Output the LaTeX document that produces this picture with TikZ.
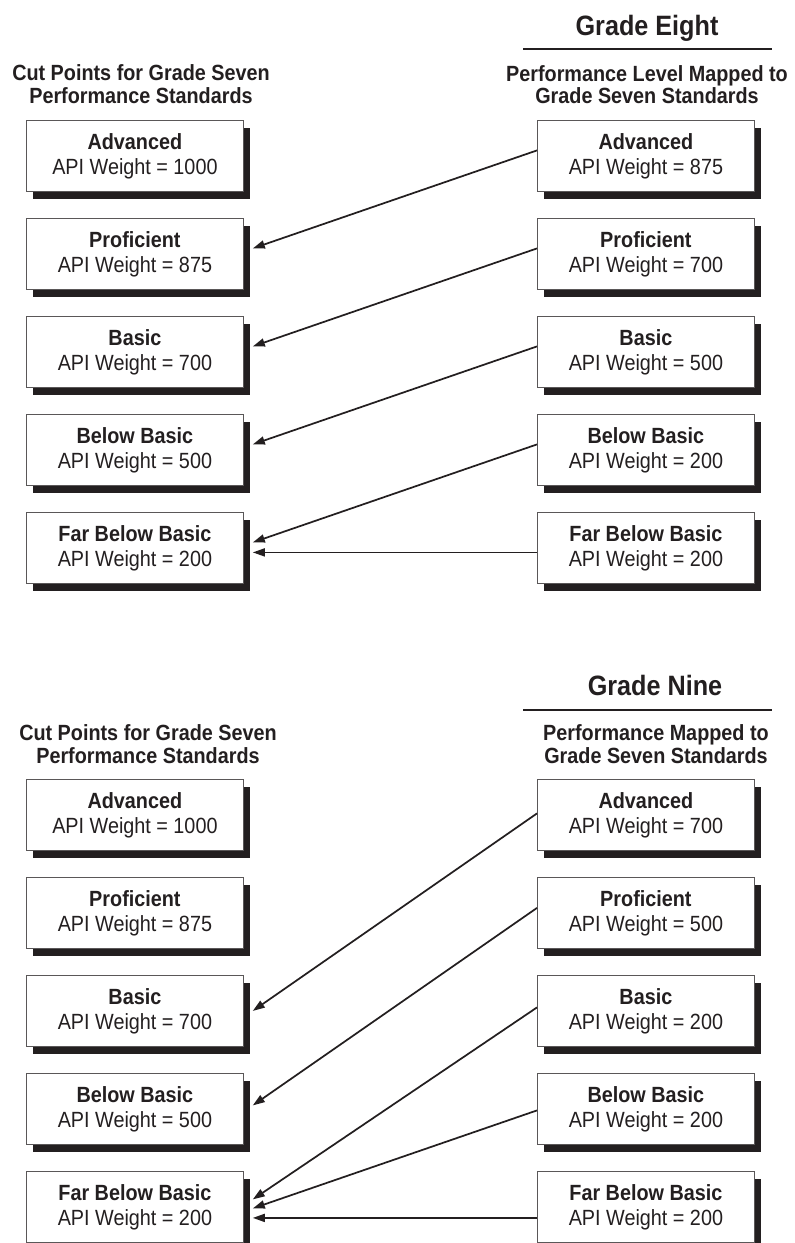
\documentclass[tikz,border=0pt]{standalone}
\usepackage{fontspec}
\setmainfont{Liberation Sans}[FakeStretch=0.9]
\usepackage{xcolor}
\usetikzlibrary{positioning}
\usetikzlibrary{calc}
\usetikzlibrary{shadows}
\usetikzlibrary{arrows.meta}
\definecolor{ink}{HTML}{231F20}

\begin{document}
\begin{tikzpicture}[x=0.75pt,y=-0.75pt,
  level/.style={draw=ink!75,line width=0.6pt,fill=white,anchor=north west,minimum width=162.75pt,minimum height=53.25pt,inner sep=0pt,align=center,text=ink,font=\fontsize{16.5}{18.75}\selectfont,drop shadow={shadow xshift=4.8pt,shadow yshift=-5.4pt,fill=ink,opacity=1}},
  head/.style={anchor=base,text=ink,inner sep=0pt,font=\bfseries\fontsize{16.5}{18}\selectfont},
  grade/.style={anchor=base,text=ink,inner sep=0pt,font=\bfseries\fontsize{21}{24}\selectfont},
  map/.style={draw=ink,line width=1.3pt,-{Triangle[length=9pt,width=6pt]}}]
\useasboundingbox (0,0) rectangle (794,1243);

% grade eight
\node[grade] (g8) at (647,35) {Grade Eight};
\draw[ink,line width=1.1pt] (523,49) -- (772,49);
\node[head] (cut8a) at (141,80) {Cut Points for Grade Seven};
\node[head] (cut8b) at (141,103) {Performance Standards};
\node[head] (map8a) at (647,81) {Performance Level Mapped to};
\node[head] (map8b) at (647,103) {Grade Seven Standards};

\node[level] (la1) at (26,120) {\textbf{Advanced}\\API Weight = 1000};
\node[level] (la2) at (26,218) {\textbf{Proficient}\\API Weight = 875};
\node[level] (la3) at (26,316) {\textbf{Basic}\\API Weight = 700};
\node[level] (la4) at (26,414) {\textbf{Below Basic}\\API Weight = 500};
\node[level] (la5) at (26,512) {\textbf{Far Below Basic}\\API Weight = 200};

\node[level] (ra1) at (537,120) {\textbf{Advanced}\\API Weight = 875};
\node[level] (ra2) at (537,218) {\textbf{Proficient}\\API Weight = 700};
\node[level] (ra3) at (537,316) {\textbf{Basic}\\API Weight = 500};
\node[level] (ra4) at (537,414) {\textbf{Below Basic}\\API Weight = 200};
\node[level] (ra5) at (537,512) {\textbf{Far Below Basic}\\API Weight = 200};

\draw[map] ($(ra1.west)+(0,-5.5)$) -- ($(la2.east)+(9,-5.5)$);
\draw[map] ($(ra2.west)+(0,-5.5)$) -- ($(la3.east)+(9,-5.5)$);
\draw[map] ($(ra3.west)+(0,-5.5)$) -- ($(la4.east)+(9,-5.5)$);
\draw[map] ($(ra4.west)+(0,-5.5)$) -- ($(la5.east)+(9,-5.5)$);
\draw[map] ($(ra5.west)+(0,4.5)$) -- ($(la5.east)+(9,4.5)$);

% grade nine
\node[grade] (g9) at (655,695) {Grade Nine};
\draw[ink,line width=1.1pt] (523,710) -- (772,710);
\node[head] (cut9a) at (148,740) {Cut Points for Grade Seven};
\node[head] (cut9b) at (148,763) {Performance Standards};
\node[head] (map9a) at (656,740) {Performance Mapped to};
\node[head] (map9b) at (656,763) {Grade Seven Standards};

\node[level] (lb1) at (26,779) {\textbf{Advanced}\\API Weight = 1000};
\node[level] (lb2) at (26,877) {\textbf{Proficient}\\API Weight = 875};
\node[level] (lb3) at (26,975) {\textbf{Basic}\\API Weight = 700};
\node[level] (lb4) at (26,1073) {\textbf{Below Basic}\\API Weight = 500};
\node[level] (lb5) at (26,1171) {\textbf{Far Below Basic}\\API Weight = 200};

\node[level] (rb1) at (537,779) {\textbf{Advanced}\\API Weight = 700};
\node[level] (rb2) at (537,877) {\textbf{Proficient}\\API Weight = 500};
\node[level] (rb3) at (537,975) {\textbf{Basic}\\API Weight = 200};
\node[level] (rb4) at (537,1073) {\textbf{Below Basic}\\API Weight = 200};
\node[level] (rb5) at (537,1171) {\textbf{Far Below Basic}\\API Weight = 200};

\draw[map] ($(rb1.west)+(0,-1.5)$) -- ($(lb3.east)+(9,0)$);
\draw[map] ($(rb2.west)+(0,-5)$) -- ($(lb4.east)+(9,-3.5)$);
\draw[map] ($(rb3.west)+(0,-3.5)$) -- ($(lb5.east)+(9,-7.5)$);
\draw[map] ($(rb4.west)+(0,1.5)$) -- ($(lb5.east)+(9,1.5)$);
\draw[map] ($(rb5.west)+(0,11)$) -- ($(lb5.east)+(9,11)$);
\end{tikzpicture}
\end{document}
